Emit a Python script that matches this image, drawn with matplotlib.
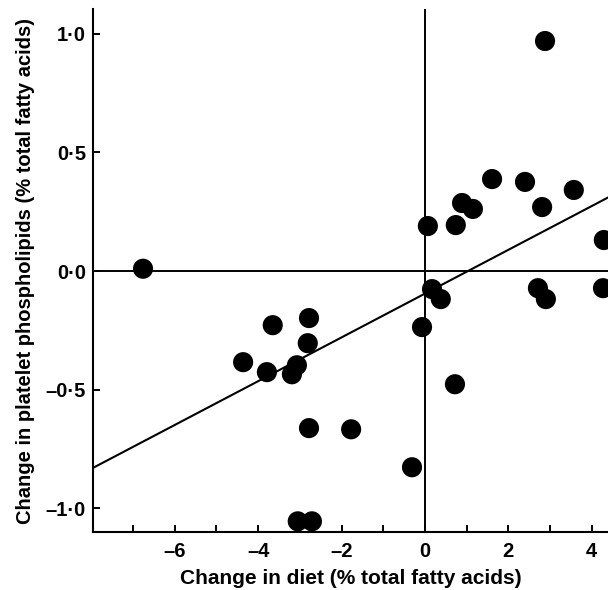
from matplotlib import pyplot as plt
from matplotlib.ticker import FixedLocator, FixedFormatter, MultipleLocator
import numpy as np

plt.rcParams['font.family'] = ['Liberation Sans', 'DejaVu Sans']
plt.rcParams['font.weight'] = 'bold'

# change in diet vs change in platelet phospholipids (% total fatty acids)
diet = [-6.76, 2.88, 1.61, 2.40, 3.57, 0.89, 1.15, 2.81, 0.07, 0.74,
        4.29, 0.17, 0.38, 2.71, 2.90, 4.27, -0.07, 0.72, -0.31, -1.77,
        -2.78, -2.78, -2.81, -3.65, -4.36, -3.79, -3.19, -3.07, -3.05, -2.71]
platelet = [0.01, 0.97, 0.388, 0.376, 0.342, 0.287, 0.262, 0.27, 0.19, 0.194,
            0.131, -0.076, -0.118, -0.072, -0.118, -0.072, -0.236, -0.477, -0.827, -0.667,
            -0.662, -0.198, -0.304, -0.228, -0.384, -0.426, -0.435, -0.397, -1.055, -1.055]

# regression line
slope = 0.0923
intercept = -0.095

xticks = [-6, -4, -2, 0, 2, 4]
xtick_labels = ['\u20136', '\u20134', '\u20132', '0', '2', '4']
yticks = [-1.0, -0.5, 0.0, 0.5, 1.0]
ytick_labels = ['\u20131\u00b70', '\u20130\u00b75', '0\u00b70', '0\u00b75', '1\u00b70']

fig = plt.figure(figsize=(6.08, 5.90), dpi=100)
ax = fig.add_axes([93 / 608, 1 - 532 / 590, 1 - 93 / 608, (532 - 9) / 590])

xlim = (-7.96, 4.39)
ylim = (-1.10, 1.105)

ax.axhline(0, color='black', lw=1.4, zorder=1)
ax.axvline(0, color='black', lw=1.4, zorder=1)

fx = np.array(xlim)
ax.plot(fx, slope * fx + intercept, color='black', lw=1.5, zorder=2)

ax.scatter(diet, platelet, s=210, color='black', edgecolors='none', zorder=3, clip_on=False)

ax.set_xlim(*xlim)
ax.set_ylim(*ylim)

ax.xaxis.set_major_locator(FixedLocator(xticks))
ax.xaxis.set_major_formatter(FixedFormatter(xtick_labels))
ax.xaxis.set_minor_locator(MultipleLocator(1))
ax.yaxis.set_major_locator(FixedLocator(yticks))
ax.yaxis.set_major_formatter(FixedFormatter(ytick_labels))

ax.tick_params(which='both', direction='in', length=5, width=1.4, labelsize=14.5, pad=7)
ax.tick_params(axis='y', pad=5)

for s in ['top', 'right']:
    ax.spines[s].set_visible(False)
for s in ['left', 'bottom']:
    ax.spines[s].set_linewidth(1.5)

ax.set_xlabel('Change in diet (% total fatty acids)', fontsize=15, fontweight='bold', labelpad=6)
ax.set_ylabel('Change in platelet phospholipids (% total fatty acids)', fontsize=14.5,
              fontweight='bold', labelpad=8)

plt.savefig('out.png', dpi=100)
